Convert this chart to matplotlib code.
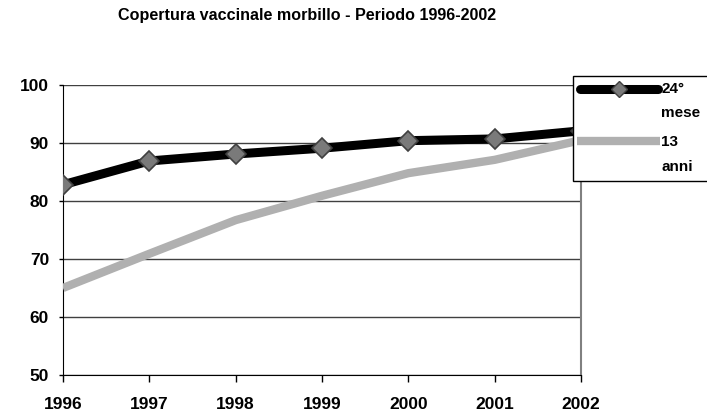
import matplotlib.pyplot as plt
from matplotlib.lines import Line2D
from matplotlib.patches import Rectangle

plt.rcParams['font.family'] = ['Liberation Sans', 'DejaVu Sans']
plt.rcParams['font.weight'] = 'bold'

anni = [1996, 1997, 1998, 1999, 2000, 2001, 2002]
mese24 = [82.8, 86.9, 88.1, 89.1, 90.4, 90.7, 92.1]
anni13 = [65.0, 70.9, 76.7, 80.9, 84.8, 87.1, 90.5]

W, H = 707, 417
fig = plt.figure(figsize=(W / 100, H / 100), dpi=100)
ax = fig.add_axes([0.089, 0.1007, 0.733, 0.6955])

gray_kw = dict(color='#b0b0b0', lw=6, solid_capstyle='butt')
black_kw = dict(color='black', lw=6.5, marker='D', markersize=10,
                markerfacecolor='#7a7a7a', markeredgecolor='#404040',
                markeredgewidth=1.2, solid_capstyle='round')

ax.plot(anni, anni13, zorder=3, **gray_kw)
ax.plot(anni, mese24, zorder=4, **black_kw)

ax.set_xlim(1996, 2002)
ax.set_ylim(50, 100)
ax.set_yticks([50, 60, 70, 80, 90, 100])
ax.set_xticks(anni)
ax.yaxis.grid(True, color='#404040', lw=1)
ax.set_axisbelow(True)
ax.tick_params(axis='y', length=3, width=1, labelsize=12.5, pad=7)
ax.tick_params(axis='x', length=5, width=1, labelsize=12.5, pad=10.5)
ax.spines['top'].set_visible(False)
ax.spines['right'].set_color('#808080')
ax.spines['right'].set_linewidth(1.5)
for t in ax.get_xticklabels() + ax.get_yticklabels():
    t.set_fontweight('bold')

# legend drawn by hand in pixel coords (top-left origin)
def fx(px):
    return px / W

def fy(py):
    return 1 - py / H

fig.patches.append(Rectangle((fx(573), fy(181)), fx(140), (181 - 76) / H,
                             transform=fig.transFigure, facecolor='white',
                             edgecolor='black', lw=1, zorder=5))
fig.add_artist(Line2D([fx(580), fx(658)], [fy(89), fy(89)], transform=fig.transFigure,
                      zorder=6, color='black', lw=6.5, solid_capstyle='round'))
fig.add_artist(Line2D([fx(619)], [fy(89)], transform=fig.transFigure, zorder=7,
                      ls='none', marker='D', markersize=8, markerfacecolor='#7a7a7a',
                      markeredgecolor='#404040', markeredgewidth=1))
fig.add_artist(Line2D([fx(577), fx(660)], [fy(141), fy(141)], transform=fig.transFigure,
                      zorder=6, **gray_kw))
for txt, py in [('24°', 89), ('mese', 113), ('13', 142), ('anni', 167)]:
    fig.text(fx(661), fy(py), txt, ha='left', va='center', fontsize=11,
             fontweight='bold', zorder=8)

fig.text(0.435, 0.963, 'Copertura vaccinale morbillo - Periodo 1996-2002',
         ha='center', va='center', fontsize=11.6, fontweight='bold')

fig.savefig('out.png', dpi=100)
